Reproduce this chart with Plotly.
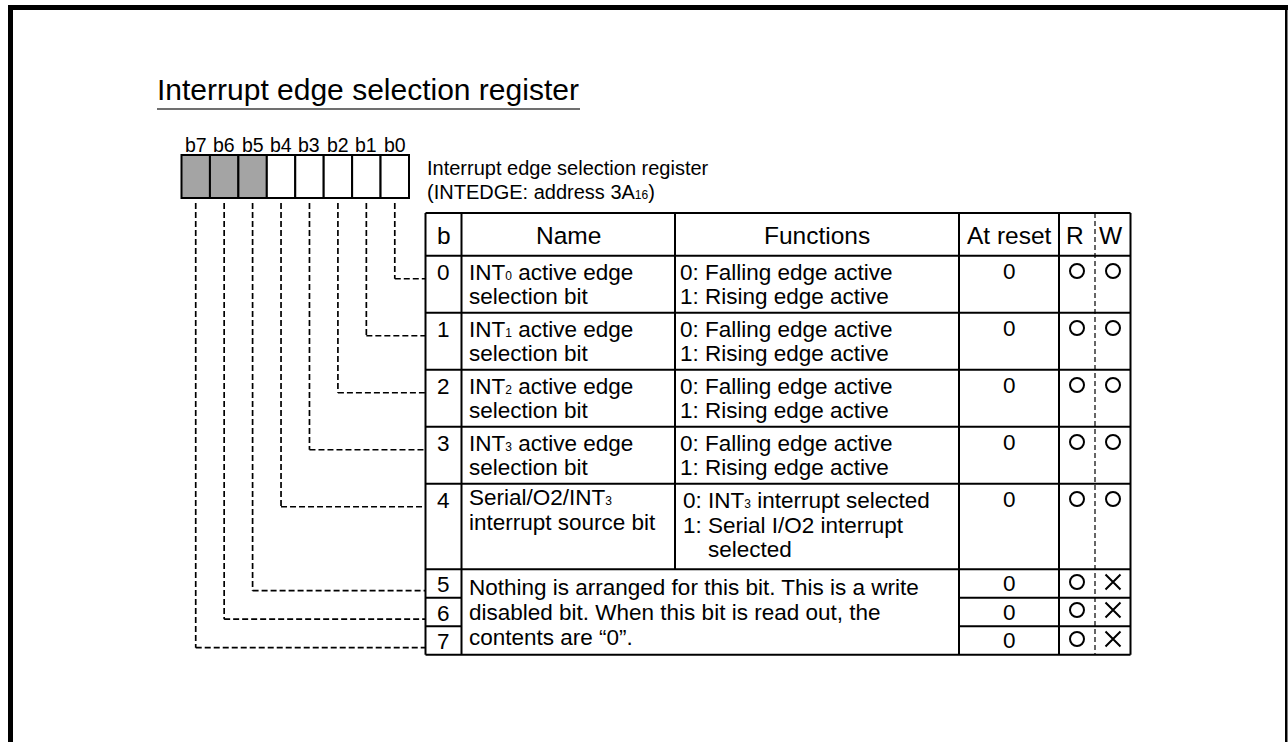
import plotly.graph_objects as go

# ---------------- data ----------------
title_text = "Interrupt edge selection register"
SUB = '<span style="font-size:12px">{}</span>'
register_desc = ["Interrupt edge selection register",
                 "(INTEDGE: address 3A" + SUB.format("16") + ")"]
bit_labels = ["b7", "b6", "b5", "b4", "b3", "b2", "b1", "b0"]
unused_bits = [7, 6, 5]
header_labels = ["b", "Name", "Functions", "At reset", "R", "W"]
bit_numbers = ["0", "1", "2", "3", "4", "5", "6", "7"]
name_lines = [
    ["INT" + SUB.format("0") + " active edge", "selection bit"],
    ["INT" + SUB.format("1") + " active edge", "selection bit"],
    ["INT" + SUB.format("2") + " active edge", "selection bit"],
    ["INT" + SUB.format("3") + " active edge", "selection bit"],
    ["Serial/O2/INT" + SUB.format("3"), "interrupt source bit"],
    None, None, None,
]
function_lines = [
    ["0: Falling edge active", "1: Rising edge active"],
    ["0: Falling edge active", "1: Rising edge active"],
    ["0: Falling edge active", "1: Rising edge active"],
    ["0: Falling edge active", "1: Rising edge active"],
    ["0: INT" + SUB.format("3") + " interrupt selected", "1: Serial I/O2 interrupt", "selected"],
    None, None, None,
]
merged_note = [
    "Nothing is arranged for this bit. This is a write",
    "disabled bit. When this bit is read out, the",
    "contents are \u201c0\u201d.",
]
reset_values = ["0", "0", "0", "0", "0", "0", "0", "0"]
read_access = ["O", "O", "O", "O", "O", "O", "O", "O"]
write_access = ["O", "O", "O", "O", "O", "X", "X", "X"]
row_units = [1, 1, 1, 1, 1.5, 0.5, 0.5, 0.5]

# ---------------- layout constants ----------------
W, H = 1288, 742
FONT = "Liberation Sans, Arial, Helvetica, sans-serif"
BODY = 22.5
HEAD = 24.5
REG_X0, REG_X1, REG_Y0, REG_Y1 = 181.5, 409, 155, 198
COLS = [425.5, 461.5, 675, 959, 1059, 1130.5]
RW_DIV = 1095
TOP = 213
UNIT = 57
HEADER_H = 0.75 * UNIT
LINE_GAP = 24.6

shapes = []
annotations = []


def ann(x, y, text, size=BODY, xanchor="left", color="black"):
    annotations.append(dict(x=x, y=y, xref="x", yref="y", text=text, showarrow=False,
                            xanchor=xanchor, yanchor="middle",
                            font=dict(family=FONT, size=size, color=color)))


def line(x0, y0, x1, y1, width=2, dash="solid", color="black"):
    shapes.append(dict(type="line", xref="x", yref="y", x0=x0, y0=y0, x1=x1, y1=y1,
                       line=dict(color=color, width=width, dash=dash)))


# frame
shapes.append(dict(type="rect", xref="x", yref="y", x0=8, y0=5, x1=1288, y1=10,
                   fillcolor="black", line=dict(width=0)))
shapes.append(dict(type="rect", xref="x", yref="y", x0=8, y0=5, x1=13, y1=H,
                   fillcolor="black", line=dict(width=0)))
shapes.append(dict(type="rect", xref="x", yref="y", x0=1285, y0=5, x1=1287.5, y1=H,
                   fillcolor="black", line=dict(width=0)))

# title
ann(155, 89, title_text, size=30)
line(157, 109, 580, 109, width=2, color="#707070")

# register boxes
bw = (REG_X1 - REG_X0) / len(bit_labels)
bit_x = {}
for k, lab in enumerate(bit_labels):
    bit = 7 - k
    x0 = REG_X0 + k * bw
    fill = "#a4a4a4" if bit in unused_bits else "white"
    shapes.append(dict(type="rect", xref="x", yref="y", x0=x0, y0=REG_Y0, x1=x0 + bw, y1=REG_Y1,
                       fillcolor=fill, line=dict(color="black", width=2)))
    bit_x[bit] = x0 + bw / 2
    ann(x0 + bw / 2, 144.5, lab, size=19.5, xanchor="center")

ann(425, 167.5, register_desc[0], size=20)
ann(425, 191.5, register_desc[1], size=20)

# row geometry
row_tops = []
y = TOP + HEADER_H
for u in row_units:
    row_tops.append(y)
    y += u * UNIT
BOTTOM = y
row_h = [u * UNIT for u in row_units]
first_merged = next(i for i, n in enumerate(name_lines) if n is None)

# table grid
line(COLS[0], TOP, COLS[-1], TOP)
line(COLS[0], BOTTOM, COLS[-1], BOTTOM)
for j, cx in enumerate(COLS):
    y_end = row_tops[first_merged] if j == 2 else BOTTOM
    line(cx, TOP, cx, y_end)
line(COLS[0], TOP + HEADER_H, COLS[-1], TOP + HEADER_H)
for i in range(1, len(row_units)):
    yy = row_tops[i]
    if name_lines[i] is None and name_lines[i - 1] is None:
        line(COLS[0], yy, COLS[1], yy)
        line(COLS[3], yy, COLS[5], yy)
    else:
        line(COLS[0], yy, COLS[-1], yy)
line(RW_DIV, TOP, RW_DIV, BOTTOM, width=1.2, dash="5px,3px")

# header
hy = TOP + HEADER_H / 2 + 1
ann((COLS[0] + COLS[1]) / 2, hy, header_labels[0], size=HEAD, xanchor="center")
ann((COLS[1] + COLS[2]) / 2, hy, header_labels[1], size=HEAD, xanchor="center")
ann((COLS[2] + COLS[3]) / 2, hy, header_labels[2], size=HEAD, xanchor="center")
ann((COLS[3] + COLS[4]) / 2, hy, header_labels[3], size=HEAD, xanchor="center")
ann((COLS[4] + RW_DIV) / 2 - 2, hy, header_labels[4], size=HEAD, xanchor="center")
ann((RW_DIV + COLS[5]) / 2 - 2, hy, header_labels[5], size=HEAD, xanchor="center")

# rows
mark_y = []
for i in range(len(bit_numbers)):
    top, h = row_tops[i], row_h[i]
    first = top + 16.5 if h >= UNIT else top + h / 2 + 1
    ann((COLS[0] + COLS[1]) / 2, first, bit_numbers[i], xanchor="center")
    ann((COLS[3] + COLS[4]) / 2, first - 1, reset_values[i], xanchor="center")
    mark_y.append(round(top + 15 if h >= UNIT else top + h / 2 - 1.5))
    if name_lines[i]:
        for k, t in enumerate(name_lines[i]):
            ann(COLS[1] + 5.5, first - (2.5 if h > UNIT else 0) + k * LINE_GAP, t)
    if function_lines[i]:
        hanging = h > UNIT
        for k, t in enumerate(function_lines[i]):
            indent = 0 if (len(t) > 1 and t[0].isdigit() and t[1] == ":") else 25
            xoff = (6 if hanging else 2.5) + indent
            ann(COLS[2] + xoff, first + (0.5 if hanging else 0) + k * LINE_GAP, t)

# merged note across the unused-bit rows
for k, t in enumerate(merged_note):
    ann(COLS[1] + 5.5, row_tops[first_merged] + 18 + k * 25, t)

# dashed connectors
for bit in range(8):
    xb = bit_x[bit]
    yc = row_tops[bit] + min(23, 0.75 * row_h[bit])
    line(xb, REG_Y1 + 5, xb, yc, width=1.7, dash="6px,3px")
    line(xb, yc, COLS[0], yc, width=1.7, dash="6px,3px")

fig = go.Figure()
rx = round((COLS[4] + RW_DIV) / 2)
wx = round((RW_DIV + COLS[5]) / 2)
sym = {"O": "circle-open", "X": "x-thin-open"}
for cx, vals in ((rx, read_access), (wx, write_access)):
    fig.add_trace(go.Scatter(x=[cx] * len(vals), y=mark_y, mode="markers", hoverinfo="skip",
                             marker=dict(symbol=[sym[v] for v in vals],
                                         size=[14 if v == "O" else 15 for v in vals],
                                         color="black", opacity=1,
                                         line=dict(color="black", width=2))))

fig.update_layout(
    width=W, height=H, autosize=False,
    margin=dict(l=0, r=0, t=0, b=0),
    paper_bgcolor="white", plot_bgcolor="white",
    showlegend=False,
    xaxis=dict(range=[0, W], visible=False, fixedrange=True),
    yaxis=dict(range=[H, 0], visible=False, fixedrange=True),
    shapes=shapes, annotations=annotations,
)
fig.write_html("out.html", config={"displayModeBar": False},
               post_script="document.body.style.margin='0';document.body.style.overflow='hidden';")
